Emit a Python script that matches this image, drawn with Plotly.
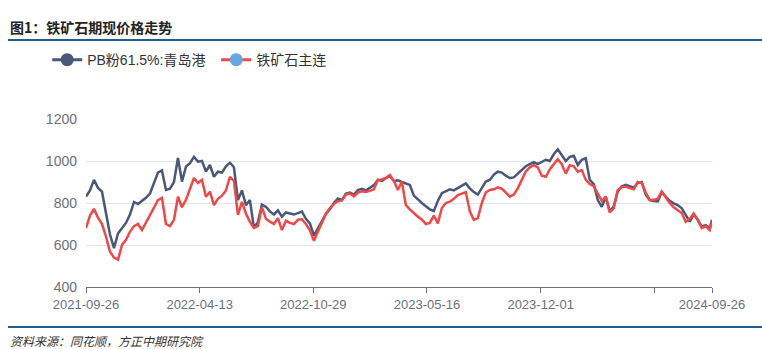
import pandas as pd
import plotly.graph_objects as go

# weekly sample dates plus final date
dates = [d.strftime("%Y-%m-%d") for d in pd.date_range("2021-09-26", periods=157, freq="7D")] + ["2024-09-26"]

pb_qingdao = [
    830, 860, 910, 872, 854, 760, 650, 585, 655, 680,
    705, 745, 805, 795, 810, 825, 845, 900, 945, 955,
    862, 868, 900, 1014, 902, 973, 990, 1020, 997, 1000,
    950, 981, 925, 949, 945, 975, 992, 970, 814, 860,
    790, 814, 681, 710, 792, 782, 760, 745, 765, 735,
    755, 750, 745, 752, 759, 725, 703, 645, 681, 715,
    748, 770, 800, 822, 814, 845, 850, 840, 862, 868,
    860, 872, 885, 910, 905, 918, 928, 905, 908, 900,
    892, 886, 835, 815, 800, 785, 770, 762, 810, 847,
    858, 865, 860, 872, 880, 893, 870, 852, 840, 870,
    902, 910, 935, 949, 945, 930, 919, 922, 940, 960,
    975, 985, 995, 985, 995, 1006, 1000, 1032, 1056, 1029,
    1000, 1020, 1025, 981, 1006, 1013, 910, 890, 814, 782,
    830, 760, 785, 855, 880, 886, 878, 873, 895, 900,
    840, 814, 810, 808, 850, 830, 810, 798, 790, 775,
    740, 711, 745, 720, 688, 695, 681, 720,
]

iron_ore_main = [
    681, 740, 772, 730, 700, 640, 568, 540, 530, 600,
    625, 663, 690, 700, 671, 705, 740, 775, 814, 824,
    700, 690, 720, 830, 780, 815, 870, 919, 895, 910,
    830, 854, 790, 820, 835, 860, 925, 905, 743, 805,
    750, 710, 681, 690, 780, 725, 711, 700, 728, 671,
    715, 705, 700, 720, 722, 700, 670, 620, 663, 705,
    748, 776, 795, 808, 812, 840, 845, 832, 850, 856,
    852, 858, 865, 910, 912, 920, 933, 905, 862, 902,
    790, 770, 750, 735, 722, 700, 705, 740, 703, 776,
    800, 806, 820, 838, 845, 852, 760, 720, 728, 800,
    850, 862, 865, 874, 868, 850, 830, 840, 870, 910,
    950, 970, 980, 970, 930, 925, 960, 985, 1008, 985,
    940, 980, 975, 949, 957, 910, 890, 880, 845, 810,
    830, 755, 775, 862, 875, 878, 871, 865, 900, 895,
    850, 814, 815, 820, 855, 825, 800, 780, 765, 752,
    710, 725, 750, 720, 681, 690, 671, 711,
]

tick_dates = ["2021-09-26", "2022-04-13", "2022-10-29", "2023-05-16", "2023-12-01", "2024-06-17", "2024-09-26"]
tick_labels = ["2021-09-26", "2022-04-13", "2022-10-29", "2023-05-16", "2023-12-01", "", "2024-09-26"]

names = ["PB粉61.5%:青岛港", "铁矿石主连"]
line_colors = ["#4A5878", "#F04848"]
marker_colors = ["#4A5878", "#66A6E2"]

fig = go.Figure()
for name, vals, lc in zip(names, [pb_qingdao, iron_ore_main], line_colors):
    fig.add_trace(go.Scatter(x=dates, y=vals, mode="lines", name=name,
                             line=dict(color=lc, width=2.5), showlegend=False))
# legend-only entries
for name, lc, mc in zip(names, line_colors, marker_colors):
    fig.add_trace(go.Scatter(x=[None], y=[None], mode="lines+markers", name=name,
                             line=dict(color=lc, width=3),
                             marker=dict(color=mc, size=13, symbol="circle"),
                             showlegend=True))

font_family = "Liberation Sans, Noto Sans CJK SC, sans-serif"

fig.update_layout(
    width=762, height=349,
    margin=dict(l=86, r=50, t=119, b=62),
    paper_bgcolor="white", plot_bgcolor="white",
    font=dict(family=font_family, color="#6E7079", size=13),
    showlegend=True,
    legend=dict(orientation="h", x=-0.062, xanchor="left", y=1.351, yanchor="middle",
                font=dict(size=14, color="#333333", family=font_family),
                itemwidth=30, tracegroupgap=0, bgcolor="rgba(0,0,0,0)",
                entrywidth=124, entrywidthmode="pixels"),
    xaxis=dict(type="date", range=["2021-09-26", "2024-09-26"],
               tickmode="array", tickvals=tick_dates, ticktext=tick_labels,
               showgrid=False, showline=True, linecolor="#6E7079", linewidth=1,
               ticks="outside", ticklen=5, tickcolor="#6E7079",
               tickfont=dict(size=13, color="#6E7079"), zeroline=False),
    yaxis=dict(range=[400, 1200], tickmode="linear", tick0=400, dtick=200,
               showgrid=True, gridcolor="#E0E6F1", gridwidth=1,
               showline=False, zeroline=False, ticks="",
               tickfont=dict(size=14, color="#6E7079"), ticklabelstandoff=8),
    shapes=[
        dict(type="line", xref="paper", yref="paper", x0=-0.1246, x1=1.08, y0=1.47, y1=1.47,
             line=dict(color="#1F5F8B", width=2)),
        dict(type="line", xref="paper", yref="paper", x0=-0.1246, x1=1.08, y0=-0.238, y1=-0.238,
             line=dict(color="#1F5F8B", width=2)),
    ],
    annotations=[
        dict(text="<b>图1：铁矿石期现价格走势</b>", xref="paper", yref="paper",
             x=-0.1246, y=1.548, xanchor="left", yanchor="middle", showarrow=False,
             font=dict(size=14, color="#222222", family="Noto Sans CJK SC, sans-serif")),
        dict(text="<i>资料来源：同花顺，方正中期研究院</i>", xref="paper", yref="paper",
             x=-0.1246, y=-0.321, xanchor="left", yanchor="middle", showarrow=False,
             font=dict(size=12, color="#333333", family="Noto Sans CJK SC, sans-serif")),
    ],
)

fig.write_html("out.html")
